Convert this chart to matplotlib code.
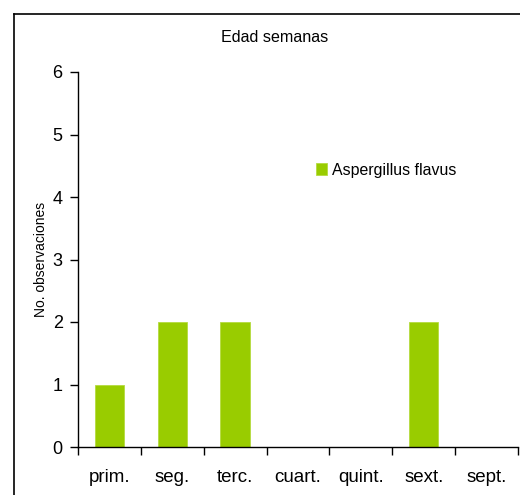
import matplotlib

matplotlib.use("Agg")

import matplotlib.pyplot as plt
from matplotlib.lines import Line2D

plt.rcParams["font.family"] = ["Liberation Sans", "DejaVu Sans"]

categories = ["prim.", "seg.", "terc.", "cuart.", "quint.", "sext.", "sept."]
counts = [1, 2, 2, 0, 0, 2, 0]
series_name = "Aspergillus flavus"
yticks = [0, 1, 2, 3, 4, 5, 6]

BAR_COLOR = "#99CC00"
TEXT_COLOR = "#000000"

fig = plt.figure(figsize=(5.2, 4.95), dpi=100)
ax = fig.add_axes([78 / 520, 48 / 495, 440 / 520, 375 / 495])

pos = list(range(len(categories)))
ax.bar(pos, counts, width=0.47, color=BAR_COLOR, edgecolor="#B5DB3F",
       linewidth=0.6, label=series_name)

ax.set_xlim(-0.5, len(categories) - 0.5)
ax.set_ylim(0, 6)
ax.set_yticks(yticks)

# labels at category centres, tick marks at the category boundaries
ax.set_xticks(pos)
ax.set_xticklabels(categories)
ax.set_xticks([p - 0.5 for p in pos] + [len(categories) - 0.5], minor=True)
ax.tick_params(axis="x", which="major", length=0, pad=16, labelsize=13.5)
ax.tick_params(axis="x", which="minor", length=6, width=1, direction="out")
ax.tick_params(axis="y", length=6, width=1, direction="out", pad=5, labelsize=13)

for side in ("top", "right"):
    ax.spines[side].set_visible(False)
for side in ("left", "bottom"):
    ax.spines[side].set_linewidth(1)

ax.set_ylabel("No. observaciones", fontsize=10, labelpad=3)
fig.text(275 / 520, 1 - 38 / 495, "Edad semanas", ha="center", va="center",
         fontsize=11.6, color=TEXT_COLOR)

ax.legend(loc="center left", bbox_to_anchor=(316 / 520, 1 - 170 / 495),
          bbox_transform=fig.transFigure, frameon=False, fontsize=11.4,
          handlelength=0.72, handleheight=0.72, handletextpad=0.3,
          borderaxespad=0, borderpad=0)

# outer chart frame, cut off on right and bottom
fx, fy = 13.5 / 520, 1 - 13.5 / 495
fig.add_artist(Line2D([fx, fx], [0, fy], transform=fig.transFigure,
                      color="black", linewidth=1.2))
fig.add_artist(Line2D([fx, 1], [fy, fy], transform=fig.transFigure,
                      color="black", linewidth=1.2))

fig.savefig("out.png", dpi=100, facecolor="white")
